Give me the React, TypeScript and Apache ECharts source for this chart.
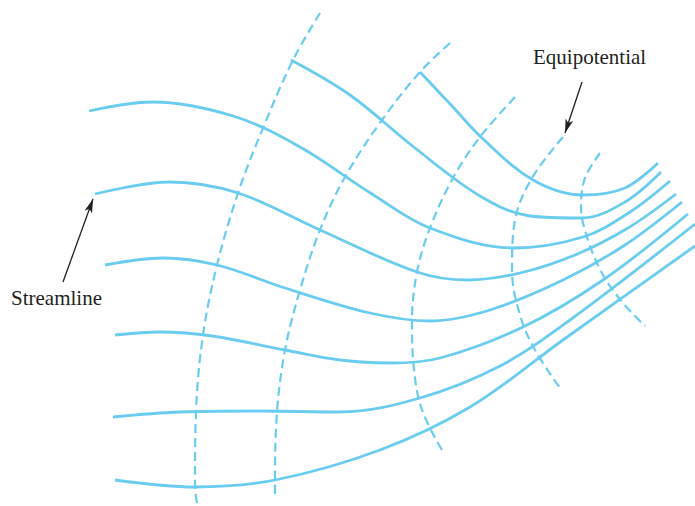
import React, { useEffect, useRef } from "react";
import * as echarts from "echarts";

// Streamlines (solid), pixel-space coordinates
const streamline1: number[][] = [[420,72],[452,106],[482,138],[533,180],[583,195],[625,188],[658,163]];
const streamline2: number[][] = [[291,60],[350,95],[415,148],[480,196],[530,216],[582,218],[625,202],[661,172]];
const streamline3: number[][] = [[89,111],[153,102],[233,116],[300,147],[372,194],[430,228],[513,248],[583,237],[630,212],[670,181]];
const streamline4: number[][] = [[95,194],[170,182],[238,193],[320,230],[417,272],[467,280],[520,273],[575,255],[628,228],[676,194]];
const streamline5: number[][] = [[105,265],[163,258],[217,265],[285,288],[370,313],[430,321],[490,310],[563,280],[625,245],[682,202]];
const streamline6: number[][] = [[115,335],[160,332],[212,336],[285,350],[340,360],[390,363],[440,358],[523,327],[603,280],[688,214]];
const streamline7: number[][] = [[113,417],[180,412],[260,411],[340,412],[420,398],[500,366],[570,320],[695,224]];
const streamline8: number[][] = [[115,480],[195,487],[275,480],[380,450],[470,407],[563,340],[695,246]];

// Equipotential lines (dashed)
const equip1: number[][] = [[320,13],[293,60],[263,128],[238,193],[217,265],[203,335],[196,412],[195,487],[197,503]];
const equip2: number[][] = [[450,43],[420,72],[382,120],[345,177],[320,230],[300,290],[285,350],[277,412],[275,480],[275,498]];
const equip3: number[][] = [[515,97],[480,137],[453,178],[430,228],[417,272],[412,321],[414,370],[422,410],[442,450]];
const equip4: number[][] = [[563,137],[532,178],[515,220],[512,270],[520,315],[535,350],[560,388]];
const equip5: number[][] = [[600,153],[585,178],[581,207],[588,240],[603,275],[623,303],[645,326]];

// Labels and their pointer arrows
const labels: string[] = ["Streamline", "Equipotential"];
const streamlineArrow: number[][] = [[63,282],[93,199]];
const equipArrow: number[][] = [[582,82],[565,133]];

const streamlines = [streamline1, streamline2, streamline3, streamline4, streamline5, streamline6, streamline7, streamline8];
const equipotentials = [equip1, equip2, equip3, equip4, equip5];

const BLUE = "#6ACDF0";

export default function App() {
  const ref = useRef<HTMLDivElement>(null);
  useEffect(() => {
    document.body.style.margin = "0";
    if (!ref.current) return;
    const chart = echarts.init(ref.current, null, { renderer: "svg" });
    const series: any[] = [];
    streamlines.forEach((d, i) => {
      series.push({
        type: "line",
        name: "streamline" + (i + 1),
        data: d,
        smooth: 0.35,
        showSymbol: false,
        symbol: "none",
        lineStyle: { color: BLUE, width: 2.8, type: "solid" },
        silent: true,
      });
    });
    equipotentials.forEach((d, i) => {
      series.push({
        type: "line",
        name: "equipotential" + (i + 1),
        data: d,
        smooth: 0.35,
        showSymbol: false,
        symbol: "none",
        lineStyle: { color: BLUE, width: 2.2, type: [9, 5] },
        silent: true,
      });
    });
    series.push({
      type: "line",
      name: "arrows",
      data: [],
      markLine: {
        silent: true,
        symbol: ["none", "arrow"],
        symbolSize: [6, 14],
        label: { show: false },
        lineStyle: { color: "#231F20", width: 1.3, type: "solid" },
        data: [
          [{ coord: streamlineArrow[0] }, { coord: streamlineArrow[1] }],
          [{ coord: equipArrow[0] }, { coord: equipArrow[1] }],
        ],
      },
    });
    chart.setOption({
      animation: false,
      grid: { left: 0, right: 0, top: 0, bottom: 0 },
      xAxis: { type: "value", min: 0, max: 695, show: false },
      yAxis: { type: "value", min: 0, max: 506, inverse: true, show: false },
      series,
      graphic: [
        {
          type: "text",
          left: 11,
          top: 287,
          style: {
            text: labels[0],
            font: '21px "Liberation Serif", "Times New Roman", serif',
            fill: "#231F20",
          },
        },
        {
          type: "text",
          left: 533,
          top: 46,
          style: {
            text: labels[1],
            font: '21px "Liberation Serif", "Times New Roman", serif',
            fill: "#231F20",
          },
        },
      ],
    });
    return () => chart.dispose();
  }, []);
  return (
    <div
      ref={ref}
      style={{ position: "absolute", left: 0, top: 0, width: 695, height: 506, background: "#fff" }}
    />
  );
}
